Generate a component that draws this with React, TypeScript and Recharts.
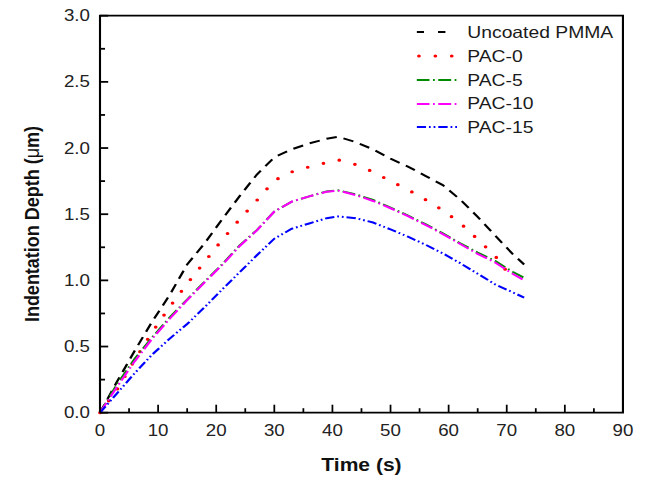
import React from 'react';
import { LineChart, Line, XAxis, YAxis, ReferenceArea } from 'recharts';

// time axis (s) shared by every curve
const time = [0, 3, 6, 9, 12, 15, 18, 21, 24, 27, 30, 33, 36, 39, 41, 44, 47, 50, 53, 56, 59, 62, 65, 68, 71, 73];

// indentation depth (um)
const uncoated = [0, 0.24, 0.47, 0.69, 0.89, 1.12, 1.28, 1.46, 1.635, 1.8, 1.93, 1.99, 2.035, 2.07, 2.085, 2.045, 1.99, 1.92, 1.86, 1.79, 1.72, 1.61, 1.48, 1.34, 1.2, 1.12];
const pac0 = [0, 0.18, 0.4, 0.61, 0.8, 0.975, 1.14, 1.305, 1.46, 1.605, 1.755, 1.82, 1.858, 1.89, 1.91, 1.875, 1.82, 1.75, 1.685, 1.61, 1.53, 1.433, 1.31, 1.185, 1.01, null];
const pac5 = [0, 0.22, 0.41, 0.57, 0.72, 0.855, 0.99, 1.12, 1.263, 1.38, 1.52, 1.595, 1.635, 1.672, 1.68, 1.65, 1.607, 1.55, 1.49, 1.425, 1.355, 1.28, 1.21, 1.147, 1.065, 1.02];
const pac10 = [0, 0.2, 0.39, 0.56, 0.71, 0.85, 0.985, 1.115, 1.258, 1.378, 1.52, 1.595, 1.635, 1.67, 1.678, 1.645, 1.6, 1.545, 1.485, 1.42, 1.35, 1.275, 1.2, 1.135, 1.05, 1.0];
const pac15 = [0, 0.15, 0.3, 0.44, 0.56, 0.67, 0.797, 0.93, 1.06, 1.19, 1.315, 1.39, 1.43, 1.47, 1.483, 1.47, 1.437, 1.385, 1.33, 1.27, 1.204, 1.13, 1.05, 0.97, 0.91, 0.87];

const xMajor = [0, 10, 20, 30, 40, 50, 60, 70, 80, 90];
const xMinor = [5, 15, 25, 35, 45, 55, 65, 75, 85];
const yMajor = [0, 0.5, 1.0, 1.5, 2.0, 2.5, 3.0];
const yMinor = [0.25, 0.75, 1.25, 1.75, 2.25, 2.75];

const data = time.map((t, i) => ({
    t,
    uncoated: uncoated[i],
    pac0: pac0[i],
    pac5: pac5[i],
    pac10: pac10[i],
    pac15: pac15[i],
}));

const series = [
    { key: 'uncoated', name: 'Uncoated PMMA', color: '#000000', dash: '9 6', width: 2, cap: 'butt' },
    { key: 'pac0', name: 'PAC-0', color: '#ff0000', dash: '0 14', width: 3.2, cap: 'round' },
    { key: 'pac5', name: 'PAC-5', color: '#008a00', dash: '11 3 1.5 3', width: 2, cap: 'butt' },
    { key: 'pac10', name: 'PAC-10', color: '#ff00ff', dash: '11 3 1.5 3', width: 2, cap: 'butt' },
    { key: 'pac15', name: 'PAC-15', color: '#0000ff', dash: '8 2.5 1.5 2.5 1.5 2.5', width: 2, cap: 'butt' },
];

// the reference is horizontally stretched, so draw narrower and scale x
const W = 552;
const H = 481;
const S = 646 / W;
const FONT = "'Liberation Sans', Arial, sans-serif";

const plotLeft = 85.45;
const plotRight = 532.3;
const plotTop = 15.7;
const plotBottom = 412.7;

const XTick = (props: any) => {
    const { x, y, payload } = props;
    const major = xMajor.includes(payload.value);
    return (
        <g>
            <line x1={x} y1={y} x2={x} y2={y - (major ? 8 : 4.5)} stroke="#000" strokeWidth={1.5} />
            {major && (
                <text x={x} y={y + 18} textAnchor="middle" dominantBaseline="central" fontSize={16} fontFamily={FONT} fill="#222">
                    {payload.value}
                </text>
            )}
        </g>
    );
};

const YTick = (props: any) => {
    const { x, y, payload } = props;
    const v = payload.value;
    const major = Math.abs(v * 2 - Math.round(v * 2)) < 1e-6;
    return (
        <g>
            <line x1={x} y1={y} x2={x + (major ? 7 : 4.3)} y2={y} stroke="#000" strokeWidth={1.8} />
            {major && (
                <text x={x - 8.6} y={y} textAnchor="end" dominantBaseline="central" fontSize={16} fontFamily={FONT} fill="#222">
                    {v.toFixed(1)}
                </text>
            )}
        </g>
    );
};

const XTitle = () => (
    <text x={(plotLeft + plotRight) / 2} y={471.5} textAnchor="middle" fontSize={18} fontWeight="bold" fontFamily={FONT} fill="#111">
        Time (s)
    </text>
);

const YTitle = () => (
    <text
        x={33.6}
        y={224}
        transform="rotate(-90 33.6 224)"
        textAnchor="middle"
        fontSize={18}
        fontWeight="bold"
        fontFamily={FONT}
        fill="#111"
    >
        Indentation Depth (<tspan fontWeight="normal">μ</tspan>m)
    </text>
);

const legendRows = [32, 56, 80, 103.5, 127];

function ChartLegend() {
    return (
        <>
            {series.map((s, i) => (
                <div
                    key={s.key}
                    style={{
                        position: 'absolute',
                        left: 356,
                        top: legendRows[i] - 11,
                        height: 22,
                        display: 'flex',
                        alignItems: 'center',
                        fontFamily: FONT,
                        fontSize: 16.5,
                        color: '#1a1a1a',
                        whiteSpace: 'nowrap',
                    }}
                >
                    <svg width={35} height={22} style={{ display: 'block' }}>
                        <line
                            x1={s.cap === 'round' ? 2 : 0}
                            y1={11}
                            x2={35}
                            y2={11}
                            stroke={s.color}
                            strokeWidth={s.width}
                            strokeDasharray={s.key === 'uncoated' ? '6.3 12' : s.dash}
                            strokeLinecap={s.cap as any}
                        />
                    </svg>
                    <span style={{ marginLeft: 8.3 }}>{s.name}</span>
                </div>
            ))}
        </>
    );
}

export default function App() {
    return (
        <div style={{ position: 'absolute', left: 0, top: 0, width: 646, height: H, overflow: 'hidden', background: '#fff' }}>
            <div style={{ position: 'relative', width: W, height: H, transform: `scaleX(${S})`, transformOrigin: '0 0' }}>
                <LineChart
                    width={W}
                    height={H}
                    data={data}
                    margin={{ top: plotTop, right: W - plotRight, bottom: H - plotBottom - 40, left: 0 }}
                >
                    <XAxis
                        dataKey="t"
                        type="number"
                        domain={[0, 90]}
                        ticks={[...xMajor, ...xMinor].sort((a, b) => a - b)}
                        interval={0}
                        axisLine={false}
                        tickLine={false}
                        tickSize={0}
                        tickMargin={0}
                        height={40}
                        tick={<XTick />}
                        label={XTitle}
                    />
                    <YAxis
                        type="number"
                        domain={[0, 3]}
                        ticks={[...yMajor, ...yMinor].sort((a, b) => a - b)}
                        interval={0}
                        axisLine={false}
                        tickLine={false}
                        tickSize={0}
                        tickMargin={0}
                        width={plotLeft}
                        tick={<YTick />}
                        label={YTitle}
                    />
                    <ReferenceArea x1={0} x2={90} y1={0} y2={3} fill="none" stroke="#000" strokeWidth={1.8} />
                    {series.map((s) => (
                        <Line
                            key={s.key}
                            type="linear"
                            dataKey={s.key}
                            name={s.name}
                            stroke={s.color}
                            strokeWidth={s.width}
                            strokeDasharray={s.dash}
                            strokeLinecap={s.cap as any}
                            dot={false}
                            activeDot={false}
                            isAnimationActive={false}
                        />
                    ))}
                </LineChart>
                <ChartLegend />
            </div>
        </div>
    );
}
